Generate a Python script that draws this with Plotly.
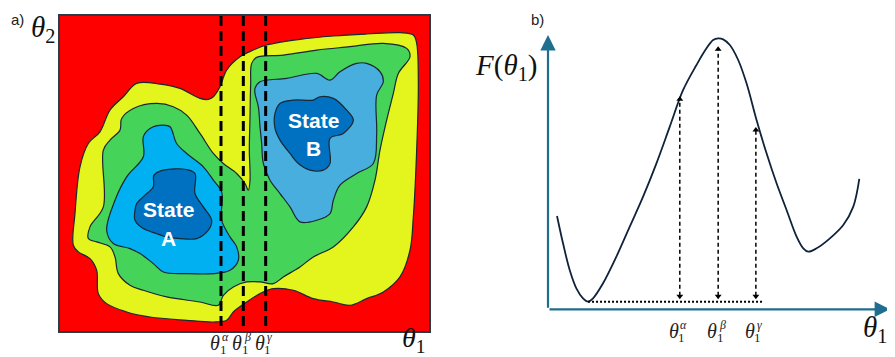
import plotly.graph_objects as go

W, H = 895, 357
OFF = 8  # page body margin of the browser page (pixels)

# ---------------- Panel a: schematic free-energy landscape (theta1, theta2) -------------
# Region boundaries (arbitrary theta units; theta2 increases downward in this unit system)
yellow_t1 = [220, 225, 240, 265, 300, 330, 370, 410, 480, 540, 600, 625, 640, 660, 680, 720, 760, 800, 900,
             1000, 1100, 1200, 1240, 1250, 1255, 1250, 1240, 1230, 1200, 1150, 1100, 1050, 1000, 940, 880,
             820, 780, 740, 700, 680, 640, 560, 450, 380, 320, 295, 290, 270, 235, 220]
yellow_t2 = [735, 640, 500, 430, 395, 330, 290, 250, 252, 265, 295, 298, 290, 260, 210, 170, 150, 135, 118,
             108, 102, 98, 105, 130, 250, 450, 650, 750, 830, 875, 895, 915, 905, 895, 870,
             865, 880, 905, 935, 960, 965, 960, 950, 935, 910, 880, 810, 775, 755, 735]

green_t1 = [265, 270, 310, 310, 330, 360, 365, 400, 470, 520, 560, 600, 640, 670, 710, 735, 745, 750, 748,
            750, 752, 755, 770, 850, 950, 1050, 1150, 1220, 1230, 1195, 1180, 1160, 1140, 1125, 1100, 1060,
            1000, 940, 900, 850, 820, 780, 740, 700, 670, 655, 600, 500, 430, 390, 355, 345, 330, 290, 265]
green_t2 = [715, 680, 620, 450, 420, 390, 355, 325, 310, 320, 345, 400, 460, 490, 520, 550, 570, 540, 450,
            350, 250, 190, 172, 165, 150, 140, 130, 145, 170, 220, 280, 360, 450, 540, 620, 680,
            740, 770, 800, 830, 850, 845, 845, 860, 885, 915, 905, 890, 870, 855, 820, 770, 740, 725, 715]

basinA_t1 = [320, 345, 380, 430, 430, 450, 490, 510, 530, 560, 610, 640, 665, 665, 690, 710, 715, 690, 640,
             560, 490, 460, 420, 390, 340, 320]
basinA_t2 = [690, 600, 530, 470, 410, 385, 375, 380, 430, 460, 500, 540, 575, 660, 710, 740, 780, 810, 820,
             820, 815, 790, 760, 745, 730, 690]

coreA_t1 = [405, 410, 435, 460, 462, 490, 560, 585, 585, 610, 635, 625, 590, 540, 500, 470, 430, 405, 405]
coreA_t2 = [630, 610, 585, 560, 525, 510, 508, 520, 580, 620, 660, 690, 715, 715, 710, 700, 685, 660, 630]

basinB_t1 = [765, 780, 860, 950, 990, 1020, 1070, 1100, 1140, 1150, 1130, 1130, 1120, 1070, 1020, 1000, 990,
             950, 900, 870, 840, 810, 790, 785, 780, 775, 765, 765]
basinB_t2 = [265, 245, 235, 220, 240, 215, 190, 190, 215, 245, 285, 400, 490, 520, 555, 600, 640,
             660, 665, 620, 580, 540, 490, 430, 380, 320, 280, 265]

coreB_t1 = [825, 840, 880, 940, 960, 1000, 1040, 1060, 1030, 990, 990, 970, 930, 895, 870, 840, 825, 825]
coreB_t2 = [340, 310, 300, 300, 290, 295, 330, 360, 400, 415, 490, 510, 510, 490, 460, 420, 385, 340]

cut_t1 = [663, 730, 797]          # theta1^alpha, theta1^beta, theta1^gamma
cut_names = ["α", "β", "γ"]

state_labels = [("State", 505, 628), ("A", 505, 715), ("State", 940, 360), ("B", 940, 445)]

# ---------------- Panel b: free-energy profile F(theta1) ----------------
profile_t1 = [27, 45, 65, 85, 105, 120, 135, 165, 205, 245, 285, 325, 365, 405, 445, 475, 495, 510, 525,
              545, 570, 595, 625, 655, 685, 715, 745, 765, 780, 805, 845, 885, 915, 933]
profile_F = [280, 198, 118, 63, 33, 23, 33, 78, 158, 248, 338, 438, 548, 658, 733, 783, 808, 813, 810,
             793, 748, 678, 568, 468, 378, 298, 218, 183, 173, 183, 213, 253, 308, 391]

F_min = 23
baseline_t1 = [120, 645]
arrow_t1 = [395, 510, 623]
arrow_top = [640, 790, 548]

# ---------------- helpers (window pixel -> figure paper) ----------------
def px(xw):
    return (xw - OFF) / W

def py(yw):
    return 1 - (yw - OFF) / H

# ---------------- figure ----------------
fig = go.Figure()

outline = dict(color="#1b2733", width=1.2)
regions = [
    (yellow_t1, yellow_t2, "#e4f41d"),
    (green_t1, green_t2, "#45d35a"),
    (basinA_t1, basinA_t2, "#00b0f0"),
    (coreA_t1, coreA_t2, "#0070c0"),
    (basinB_t1, basinB_t2, "#47aede"),
    (coreB_t1, coreB_t2, "#0070c0"),
]
for xs, ys, col in regions:
    fig.add_trace(go.Scatter(x=xs, y=ys, fill="toself", fillcolor=col, line=outline,
                             mode="lines", line_shape="spline", hoverinfo="skip",
                             xaxis="x", yaxis="y", showlegend=False))

for c in cut_t1:
    fig.add_trace(go.Scatter(x=[c, c], y=[48, 992], mode="lines",
                             line=dict(color="black", width=3, dash="10px,5px"),
                             xaxis="x", yaxis="y", showlegend=False, hoverinfo="skip"))

# panel b curve
fig.add_trace(go.Scatter(x=profile_t1, y=profile_F, mode="lines", line_shape="spline",
                         line=dict(color="#10233a", width=1.8), xaxis="x2", yaxis="y2",
                         showlegend=False, hoverinfo="skip"))
fig.add_trace(go.Scatter(x=baseline_t1, y=[F_min, F_min], mode="lines",
                         line=dict(color="black", width=2, dash="2px,2px"),
                         xaxis="x2", yaxis="y2", showlegend=False, hoverinfo="skip"))
for xa, top in zip(arrow_t1, arrow_top):
    fig.add_trace(go.Scatter(x=[xa, xa], y=[F_min + 18, top - 12], mode="lines",
                             line=dict(color="black", width=1.5, dash="4px,3px"),
                             xaxis="x2", yaxis="y2", showlegend=False, hoverinfo="skip"))
    fig.add_trace(go.Scatter(x=[xa, xa], y=[top - 10, F_min + 16], mode="markers",
                             marker=dict(symbol=["triangle-up", "triangle-down"], size=6, color="black"),
                             xaxis="x2", yaxis="y2", showlegend=False, hoverinfo="skip"))

ann = []
# axis arrows for panel b
axcol = "#1f6e8f"
for hx, hy in [(1025, 0), (0, 823)]:
    ann.append(dict(x=hx, y=hy, ax=0, ay=0, xref="x2", yref="y2", axref="x2", ayref="y2",
                    text="", showarrow=True, arrowhead=2, arrowsize=1.4, arrowwidth=2.2,
                    arrowcolor=axcol, standoff=0))

# state labels
for txt, sx, sy in state_labels:
    ann.append(dict(x=sx, y=sy, xref="x", yref="y", text=f"<b>{txt}</b>", showarrow=False,
                    xanchor="center", yanchor="middle",
                    font=dict(family="Liberation Sans", size=21, color="white")))

serif = "Liberation Serif"

def theta_label(xref, xval, sup, dx, yw):
    yc = py(yw)
    common = dict(x=xval, y=yc, xref=xref, yref="paper", showarrow=False,
                  xanchor="center", yanchor="middle", borderpad=0)
    ann.append(dict(common, xshift=dx - 4, text="<i>θ</i>",
                    font=dict(family=serif, size=20, color="#222")))
    ann.append(dict(common, xshift=dx + 4, yshift=-6, text="1",
                    font=dict(family=serif, size=13, color="#222")))
    ann.append(dict(common, xshift=dx + 6, yshift=6, text=f"<i>{sup}</i>",
                    font=dict(family=serif, size=12, color="#222")))

for c, s in zip(cut_t1, cut_names):
    theta_label("x", c, s, -2, 343)
for a, s in zip(arrow_t1, cut_names):
    theta_label("x2", a, s, -2, 331)

big = dict(family=serif, size=29, color="#111")
centered = dict(xref="paper", yref="paper", showarrow=False, xanchor="center", yanchor="middle")
ann += [
    dict(centered, x=px(414), y=py(339), text="<i>θ</i><sub>1</sub>", font=dict(big, size=28)),
    dict(centered, x=px(875), y=py(329), text="<i>θ</i><sub>1</sub>", font=big),
    dict(centered, x=px(43), y=py(29), text="<i>θ</i><sub>2</sub>", font=big),
    dict(centered, x=px(506), y=py(67), text="<i>F</i>(<i>θ</i><sub>1</sub>)", font=big),
    dict(centered, x=px(17), y=py(19), text="a)",
         font=dict(family="Liberation Sans", size=15, color="#222")),
    dict(centered, x=px(537), y=py(20), text="b)",
         font=dict(family="Liberation Sans", size=15, color="#222")),
]

hidden = dict(showgrid=False, zeroline=False, showticklabels=False, ticks="")
fig.update_layout(
    width=W, height=H, margin=dict(l=0, r=0, t=0, b=0),
    paper_bgcolor="white", plot_bgcolor="rgba(0,0,0,0)",
    xaxis=dict(domain=[px(60), px(429)], range=[180, 1287], showline=True, mirror=True,
               linecolor="#2b3a45", linewidth=1.5, **hidden),
    yaxis=dict(domain=[py(331), py(16)], range=[992, 48], showline=True, mirror=True,
               linecolor="#2b3a45", linewidth=1.5, **hidden),
    xaxis2=dict(domain=[px(548), px(890)], range=[0, 1025], showline=False, anchor="y2", **hidden),
    yaxis2=dict(domain=[py(309.3), py(35)], range=[0, 823], showline=False, anchor="x2", **hidden),
    shapes=[dict(type="rect", xref="x", yref="y", x0=180, x1=1287, y0=48, y1=992,
                 fillcolor="#ff0000", line=dict(width=0), layer="below")],
    annotations=ann,
)

fig.write_html("out.html")
